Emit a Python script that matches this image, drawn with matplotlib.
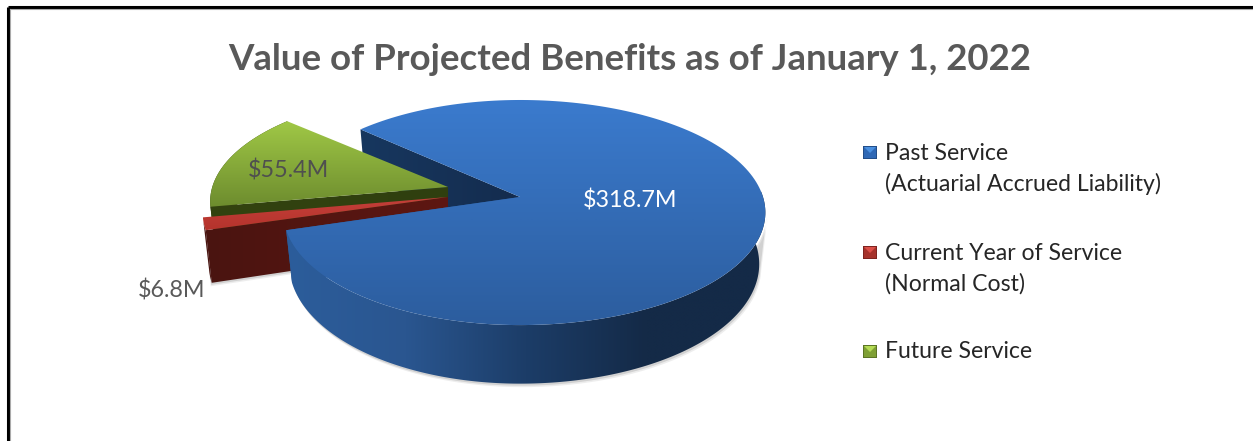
import numpy as np
import matplotlib
matplotlib.use('Agg')
import matplotlib.pyplot as plt
from matplotlib.colors import LinearSegmentedColormap
from matplotlib.patches import Polygon

title = 'Value of Projected Benefits as of January 1, 2022'
values = [318.7, 6.8, 55.4]
value_labels = ['$318.7M', '$6.8M', '$55.4M']
legend_labels = [['Past Service', '(Actuarial Accrued Liability)'],
                 ['Current Year of Service', '(Normal Cost)'],
                 ['Future Service']]

# pie geometry, in picture pixels
START = 222.0
APEX = [(520, 197), (448, 197), (448, 187)]
RADIUS = [1.0, 1.0, 0.97]
RX, RY, PERSP = 243.0, 110.4, 0.138
DEPTH = 50.5
BOTTOM_X = 0.975
BLUE_LEFT = 0.965

plt.rcParams['font.family'] = ['Lato', 'DejaVu Sans']


def project(apex, r, theta, low=False, left=1.0):
    """disc point -> picture, with a little perspective"""
    u, v = r * np.cos(theta), r * np.sin(theta)
    s = 1 / (1 - PERSP * v)
    x = RX * u * s
    y = RY * v * s
    x = np.where(u < 0, x * left, x)
    if low:
        x = x * BOTTOM_X
        y = y + DEPTH * s
    return apex[0] + x, apex[1] + y


def fill_grad(ax, verts, colors, horizontal=False, zorder=1):
    # gradient clipped to a polygon
    verts = np.asarray(verts)
    x0, x1 = verts[:, 0].min(), verts[:, 0].max()
    y0, y1 = verts[:, 1].min(), verts[:, 1].max()
    cmap = LinearSegmentedColormap.from_list('g', colors)
    ramp = np.linspace(0, 1, 256)
    img = ramp.reshape(1, -1) if horizontal else ramp.reshape(-1, 1)
    im = ax.imshow(img, cmap=cmap, extent=(x0, x1, y1, y0), origin='upper',
                   aspect='auto', interpolation='bilinear', zorder=zorder)
    patch = Polygon(verts, closed=True, fc='none', ec='none', transform=ax.transData)
    ax.add_patch(patch)
    im.set_clip_path(patch)


def face_top(apex, r, t0, t1, left=1.0):
    th = np.linspace(t0, t1, 200)
    xs, ys = project(apex, r, th, left=left)
    return [apex] + list(zip(xs, ys))


def face_cut(apex, r, t, left=1.0):
    a = project(apex, r, t, left=left)
    b = project(apex, r, t, low=True, left=left)
    c = project(apex, 0, t, low=True, left=left)
    return [apex, a, b, c]


def face_rim(apex, r, t0, t1, left=1.0):
    th = np.linspace(t0, t1, 200)
    top = list(zip(*project(apex, r, th, left=left)))
    low = list(zip(*project(apex, r, th, low=True, left=left)))
    return top + low[::-1]


fig = plt.figure(figsize=(12.53, 4.41), dpi=100)
ax = fig.add_axes([0, 0, 1, 1])

angles = np.cumsum([0] + values) / sum(values) * 2 * np.pi + np.radians(START)
blue_a, red_a, green_a = [(angles[i], angles[i + 1]) for i in range(3)]

# soft shadow behind the blue and red sides
for grow, alpha in [(3.5, 0.10), (2, 0.18)]:
    rim = face_rim(APEX[0], 1.0, np.pi * 0.05, np.pi * 0.95, left=BLUE_LEFT)
    ax.add_patch(Polygon([(x + grow * 0.6, y + grow) for x, y in rim],
                         fc='#555555', ec='none', alpha=alpha, zorder=1))
    ax.add_patch(Polygon([(x - grow * 0.3, y + grow) for x, y in face_cut(APEX[1], 1.0, red_a[0])],
                         fc='#555555', ec='none', alpha=alpha, zorder=1))

# blue inner cut face, seen through the gap
fill_grad(ax, face_cut(APEX[0], 1.0, blue_a[0], left=BLUE_LEFT), ['#17375f', '#142c4e'], True, zorder=2)

# green wedge
fill_grad(ax, face_rim(APEX[2], RADIUS[2], green_a[0], green_a[1]), ['#33430f', '#33430f'], zorder=3)
fill_grad(ax, face_cut(APEX[2], RADIUS[2], green_a[0]), ['#33430f', '#2f3f10'], True, zorder=3)
fill_grad(ax, face_top(APEX[2], RADIUS[2], green_a[0], green_a[1]), ['#a0c846', '#6d8c2e'], zorder=4)

# red wedge
fill_grad(ax, face_rim(APEX[1], RADIUS[1], red_a[0], red_a[1]), ['#4a1410', '#4a1410'], zorder=5)
fill_grad(ax, face_cut(APEX[1], RADIUS[1], red_a[0]), ['#4a1410', '#5e1712'], True, zorder=5)
fill_grad(ax, face_top(APEX[1], RADIUS[1], red_a[0], red_a[1]), ['#c4403a', '#b5332c'], zorder=6)

# blue wedge, front rim only shows below the top face
fill_grad(ax, face_cut(APEX[0], 1.0, blue_a[1], left=BLUE_LEFT), ['#2b5c99', '#2b5c99'], True, zorder=7)
fill_grad(ax, face_rim(APEX[0], 1.0, np.pi * 2 - 0.05, blue_a[1], left=BLUE_LEFT),
          ['#2c5d9b', '#2a5690', '#1c3d68', '#142a47', '#142a47'], True, zorder=7)
fill_grad(ax, face_top(APEX[0], 1.0, blue_a[0], blue_a[1], left=BLUE_LEFT), ['#3b7bce', '#2c5d9e'], zorder=8)

# value labels
ax.text(630, 200, value_labels[0], color='white', fontsize=16.8, ha='center', va='center', zorder=10)
ax.text(172, 291, value_labels[1], color='#595959', fontsize=16.8, ha='center', va='center', zorder=10)
ax.text(288, 171, value_labels[2], color='#4f4f4f', fontsize=16.8, ha='center', va='center', zorder=10)

# legend
key_colors = [('#2f68b5', '#4a90e0', '#234e88'), ('#a5322c', '#dc4f48', '#7d2420'),
              ('#7fa035', '#b5dc55', '#5c7526')]
key_y = [152, 252, 351]
for lines, colors, ky in zip(legend_labels, key_colors, key_y):
    main, light, dark = colors
    ax.add_patch(Polygon([(863, ky - 6), (877, ky - 6), (877, ky + 7), (863, ky + 7)],
                         fc=dark, ec='none', zorder=9))
    ax.add_patch(Polygon([(864, ky - 5), (876, ky - 5), (876, ky + 6), (864, ky + 6)],
                         fc=main, ec='none', zorder=9))
    ax.add_patch(Polygon([(864, ky - 5), (876, ky - 5), (870, ky + 1)], fc=light, ec='none', zorder=9))
    for i, line in enumerate(lines):
        ax.text(885, ky + 1 + i * 31, line, color='#262626', fontsize=16.6, ha='left', va='center', zorder=10)

ax.text(630, 59, title, color='#595959', fontsize=26.4, fontweight='bold', ha='center', va='center', zorder=10)

# black frame of the screenshot, open on the right and bottom
ax.plot([8, 8], [441, 7], color='black', lw=2.2, solid_capstyle='butt', zorder=11)
ax.plot([8, 1253], [7, 7], color='black', lw=2.2, solid_capstyle='butt', zorder=11)
ax.plot([9.8, 9.8], [441, 8.5], color='#aaaaaa', lw=0.8, zorder=11)
ax.plot([9.8, 1253], [8.5, 8.5], color='#aaaaaa', lw=0.8, zorder=11)

ax.set_xlim(0, 1253)
ax.set_ylim(441, 0)
ax.axis('off')

fig.savefig('out.png', dpi=100, facecolor='white')
